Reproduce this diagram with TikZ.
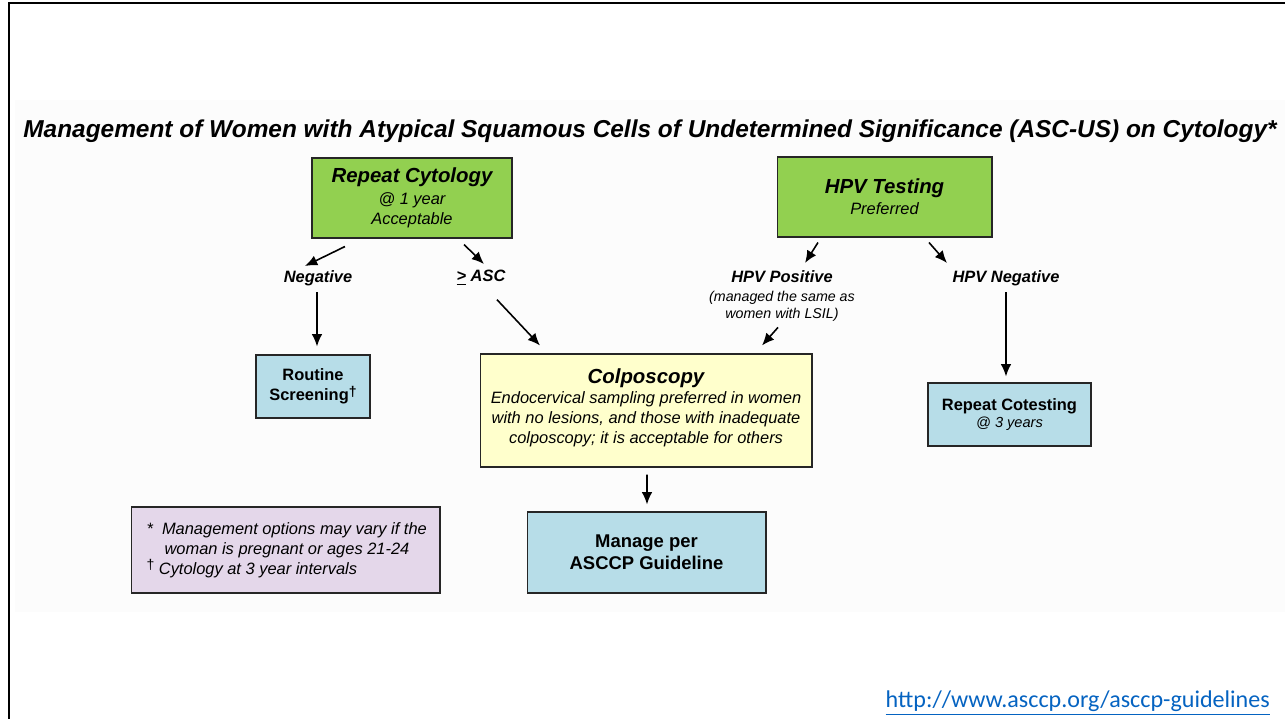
\documentclass[tikz,border=0pt]{standalone}
\usepackage{fontspec}
\setmainfont{Liberation Sans}
\newfontfamily\linkfont{Carlito}
\usetikzlibrary{positioning,calc,arrows.meta}
\definecolor{boxgreen}{HTML}{92D050}
\definecolor{boxblue}{HTML}{B7DDE8}
\definecolor{boxyellow}{HTML}{FFFFCC}
\definecolor{boxlilac}{HTML}{E4D7EA}
\definecolor{linkblue}{HTML}{0563C1}
\newcommand{\fs}[2]{\fontsize{#1}{#2}\selectfont}
\newcommand{\dagmark}{\raisebox{2.5pt}{\fs{8}{8}\upshape\textdagger}}
\tikzset{
  box/.style={draw=black!85,line width=0.6pt,align=center,inner sep=0pt},
  lbl/.style={align=center,inner sep=0pt,anchor=north,font=\fs{9.35}{11}\bfseries\itshape},
  arr/.style={-{Latex[length=7pt,width=6pt]},line width=0.9pt},
}
\begin{document}
\begin{tikzpicture}[x=0.02cm,y=-0.02cm]
\useasboundingbox (0,0) rectangle (1285,719);
\fill[gray!2] (15,100) rectangle (1285,612);
\draw[line width=1.7pt] (9,719) -- (9,3) -- (1285,3);
\node (title) at (650,131) {\fs{13.9}{16}\bfseries\itshape Management of Women with Atypical Squamous Cells of Undetermined Significance (ASC-US) on Cytology*};
\node (repcyt) [box,fill=boxgreen,minimum width=4cm,minimum height=1.6cm,font=\fs{9.35}{11.6}\itshape] at (412,198) {{\fs{11.6}{13}\bfseries Repeat Cytology}\\[1pt]@ 1 year\\Acceptable};
\node (hpv) [box,fill=boxgreen,minimum width=4.3cm,minimum height=1.6cm,font=\fs{9.35}{11}\itshape] at (884.5,197) {{\fs{11.6}{13}\bfseries HPV Testing}\\[1pt]Preferred};
\node (neg) [lbl] at (318,270) {Negative};
\node (asc) [lbl] at (481,270) {\underline{>} ASC};
\node (pos) [lbl,font=\fs{8.1}{9.2}\itshape] at (782,270) {{\fs{9.35}{11}\bfseries HPV Positive}\\[2pt](managed the same as\\women with LSIL)};
\node (hneg) [lbl] at (1006,270) {HPV Negative};
\node (routine) [box,fill=boxblue,minimum width=2.28cm,minimum height=1.26cm,font=\fs{9.35}{11.3}\bfseries] at (313,386.5) {Routine\\Screening\dagmark};
\node (colpo) [box,fill=boxyellow,minimum width=6.64cm,minimum height=2.26cm,font=\fs{9.35}{11.3}\itshape] at (646,410.5) {{\fs{11.6}{13}\bfseries Colposcopy}\\Endocervical sampling preferred in women\\with no lesions, and those with inadequate\\colposcopy; it is acceptable for others\\[-6.6pt]};
\node (cotest) [box,fill=boxblue,minimum width=3.26cm,minimum height=1.26cm,font=\fs{8.3}{10}\itshape] at (1009.5,414.5) {{\fs{9.35}{11}\bfseries\upshape Repeat Cotesting}\\@ 3 years};
\node (manage) [box,fill=boxblue,minimum width=4.78cm,minimum height=1.62cm,font=\fs{10.5}{12.5}\bfseries] at (646.5,552.5) {Manage per\\ASCCP Guideline};
\node (foot) [box,fill=boxlilac,minimum width=6.18cm,minimum height=1.72cm] at (285.5,550) {\begin{minipage}{5.8cm}\leftskip=0.12cm\fs{9.35}{11.3}\itshape *\ \ Management options may vary if the\\\hspace*{1.1em}woman is pregnant or ages 21-24\\\dagmark\ Cytology at 3 year intervals\end{minipage}};
\node (link) [anchor=east,text=linkblue] at (1276,703) {\fs{13.7}{16}\linkfont\underline{http://www.asccp.org/asccp-guidelines}};
\draw[arr] ($(repcyt.south)+(-67,8)$) -- ($(neg.north)+(-13,-4)$);
\draw[arr] ($(repcyt.south)+(52,6)$) -- ($(asc.north)+(3,-6)$);
\draw[arr] ($(neg.south)+(-1,6)$) -- ($(routine.north)+(4,-8)$);
\draw[arr] ($(asc.south)+(16,14)$) -- ($(colpo.north)+(-106,-8)$);
\draw[arr] ($(hpv.south)+(-66.5,5)$) -- ($(pos.north)+(23,-7)$);
\draw[arr] ($(pos.south)+(-4,6)$) -- ($(colpo.north)+(116,-8)$);
\draw[arr] ($(hpv.south)+(44.5,5)$) -- ($(hneg.north)+(-59,-7)$);
\draw[arr] ($(hneg.south)+(0,6)$) -- ($(cotest.north)+(-3.5,-6)$);
\draw[arr] ($(colpo.south)+(1,7)$) -- ($(manage.north)+(0.5,-7)$);
\end{tikzpicture}
\end{document}
